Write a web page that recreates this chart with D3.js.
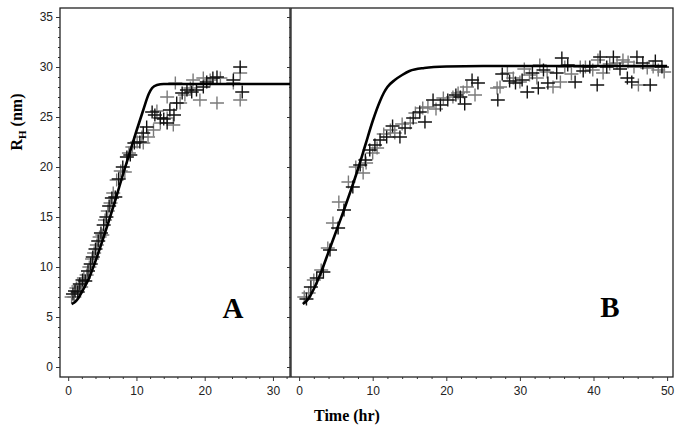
<!DOCTYPE html>
<html>
<head>
<meta charset="utf-8">
<script src="https://cdn.jsdelivr.net/npm/d3@7"></script>
<style>
  body { margin: 0; background: #fff; }
  svg { display: block; }
</style>
</head>
<body>
<svg id="chart" width="681" height="430"></svg>
<script>
// ---------- data ----------
const yTicks = [0, 5, 10, 15, 20, 25, 30, 35];
const xTicksA = [0, 10, 20, 30];
const xTicksB = [0, 10, 20, 30, 40, 50];

// Panel A: measured points (time hr, R_H nm)
const pointsA_t = [0.5,0.7,0.9,1.0,1.2,1.4,1.5,1.7,1.9,2.1,2.3,2.5,2.7,2.9,3.1,3.3,3.5,3.6,3.8,4.0,4.2,4.4,4.6,4.8,5.0,5.2,5.4,5.6,5.8,6.0,6.2,6.4,6.6,6.9,7.1,7.4,7.7,8.0,8.3,8.6,8.9,9.1,9.4,9.7,10.1,10.5,10.8,11.0,11.0,11.5,11.7,12.3,12.5,12.7,13.0,13.5,13.5,14.0,14.5,14.5,14.5,14.9,15.4,15.5,15.7,15.9,16.4,16.7,17.1,17.4,17.9,18.1,18.3,18.8,19.3,19.8,19.8,20.3,20.8,21.2,21.8,21.8,22.3,24.2,24.2,25.2,25.2,25.5,25.2];
const pointsA_r = [7.0,7.3,7.0,7.6,7.9,7.5,8.1,8.3,8.0,8.7,8.9,8.6,9.2,9.6,10.0,10.3,10.8,11.0,11.4,11.8,12.2,12.6,13.0,13.4,13.2,14.2,14.7,15.0,15.6,16.1,16.4,16.9,17.4,17.0,18.7,18.8,19.6,20.0,19.5,21.0,21.4,21.2,22.0,22.4,22.5,22.5,23.0,23.4,22.4,24.0,23.0,25.5,23.7,25.2,25.6,24.9,24.4,24.8,24.9,24.4,27.0,25.7,24.2,25.2,28.4,26.4,26.4,27.4,27.2,27.7,27.9,27.5,28.7,27.7,26.7,28.0,28.9,28.5,28.7,28.9,26.4,29.0,28.9,28.7,28.4,30.0,29.4,27.5,26.7];

// Panel A: model curve
const fitA_t = [0.5,1,1.5,2,3,4,5,6,7,8,9,10,11,11.8,12.3,13,14,20,32.5];
const fitA_r = [6.3,6.5,6.9,7.5,8.8,10.6,12.6,14.7,16.9,19.2,21.4,23.6,25.7,27.3,27.9,28.2,28.3,28.3,28.3];

// Panel B: measured points
const pointsB_t = [0.7,1.0,1.3,1.6,2.0,2.4,3.0,3.3,3.9,4.2,4.6,5.3,5.4,6.1,6.7,7.3,7.7,8.3,8.7,9.0,9.1,9.6,10.0,10.3,10.6,11.0,11.5,11.9,12.4,12.7,13.0,13.7,14.0,14.4,15.1,15.5,15.8,16.4,16.8,17.1,17.5,18.2,18.6,19.2,19.6,20.2,20.9,21.3,21.6,21.9,22.3,22.5,22.8,23.5,23.9,24.3,26.9,27.0,27.3,27.6,28.3,28.6,29.1,29.4,30.0,30.3,30.6,31.0,31.3,31.7,32.3,32.5,32.7,33.2,33.7,33.8,34.5,35.0,35.5,35.7,36.1,36.5,37.0,37.5,38.2,38.6,38.9,39.5,39.9,40.5,40.6,40.9,41.3,41.8,42.2,42.7,43.2,43.6,44.0,44.6,44.7,45.2,45.5,45.9,46.1,46.7,47.3,47.7,48.1,48.4,48.8,49.3,49.6];
const pointsB_r = [7.0,6.8,7.4,8.0,8.7,8.9,9.7,9.5,11.9,11.7,14.4,13.9,16.5,15.7,18.5,18.0,20.0,20.2,19.4,20.7,20.4,21.7,21.4,22.2,21.9,22.7,23.3,23.0,23.7,24.1,23.4,23.0,24.3,23.9,24.4,24.9,25.4,25.5,25.9,24.5,26.0,26.7,25.8,26.2,26.9,26.7,27.0,27.2,27.4,27.0,27.5,26.3,28.0,28.7,27.2,28.4,27.9,26.7,28.0,29.3,29.4,28.6,28.9,28.4,28.5,28.7,29.8,27.5,29.2,29.4,28.9,27.9,30.2,29.7,29.5,28.4,28.0,29.4,28.5,30.9,30.0,30.2,29.3,28.5,30.0,29.6,30.0,30.0,29.7,28.2,30.7,31.0,29.4,30.0,30.3,31.0,30.4,29.8,30.7,28.9,30.5,28.5,30.0,31.0,28.2,30.4,29.9,28.2,30.0,30.6,29.7,30.0,29.5];

// Panel B: model curve
const fitB_t = [0.5,1,1.5,2,3,4,5,6,7,8,9,10,11,11.5,12,13,14,15,17,20,25,50];
const fitB_r = [6.3,6.6,7.1,7.8,9.5,11.5,13.5,15.5,17.6,19.8,22.2,24.6,26.6,27.4,28.0,28.7,29.2,29.6,29.9,30.05,30.1,30.1];

// ---------- drawing ----------
const svg = d3.select("#chart");
const y = d3.scaleLinear().domain([-1, 35.9]).range([377, 8]);
const xA = d3.scaleLinear().domain([-1.2, 32.5]).range([60, 290]);
const xB = d3.scaleLinear().domain([-1.1, 50.8]).range([291, 673]);

const tickFont = "'Liberation Sans', Arial, sans-serif";
const serif = "'Liberation Serif', 'Times New Roman', serif";

function frame(x) {
  const [x0, x1] = x.range();
  svg.append("rect").attr("x", x0).attr("y", y.range()[1])
    .attr("width", x1 - x0).attr("height", y.range()[0] - y.range()[1])
    .attr("fill", "none").attr("stroke", "#222").attr("stroke-width", 1.3);
}
frame(xA);
frame(xB);

function yAxis(xpos, labels) {
  const minor = d3.range(0, 36, 1).filter(v => v % 5 !== 0);
  const gMin = svg.append("g").attr("transform", `translate(${xpos},0)`)
    .call(d3.axisLeft(y).tickValues(minor).tickSize(2).tickFormat(""));
  const gMaj = svg.append("g").attr("transform", `translate(${xpos},0)`)
    .call(d3.axisLeft(y).tickValues(yTicks).tickSize(4).tickPadding(3)
      .tickFormat(labels ? d3.format("d") : ""));
  [gMin, gMaj].forEach(g => {
    g.select(".domain").remove();
    g.selectAll("line").attr("stroke", "#333").attr("stroke-width", 1);
    g.selectAll("text").attr("font-family", tickFont).attr("font-size", 12).attr("fill", "#222");
  });
}
yAxis(xA.range()[0], true);
yAxis(xB.range()[0], false);

function xAxis(x, ticks, maxv) {
  const minor = d3.range(0, maxv + 0.1, 2).filter(v => v % 10 !== 0 && v >= x.domain()[0] && v <= x.domain()[1]);
  const gMin = svg.append("g").attr("transform", `translate(0,${y.range()[0]})`)
    .call(d3.axisBottom(x).tickValues(minor).tickSize(2).tickFormat(""));
  const gMaj = svg.append("g").attr("transform", `translate(0,${y.range()[0]})`)
    .call(d3.axisBottom(x).tickValues(ticks).tickSize(4).tickPadding(5).tickFormat(d3.format("d")));
  [gMin, gMaj].forEach(g => {
    g.select(".domain").remove();
    g.selectAll("line").attr("stroke", "#333").attr("stroke-width", 1);
    g.selectAll("text").attr("font-family", tickFont).attr("font-size", 12).attr("fill", "#222");
  });
}
xAxis(xA, xTicksA, 32);
xAxis(xB, xTicksB, 50);

function points(x, ts, rs) {
  const data = ts.map((t, i) => ({t, r: rs[i], i}));
  const ordered = data.filter(d => d.i % 2 === 0).concat(data.filter(d => d.i % 2 === 1));
  const g = svg.append("g");
  const hw = 7, hh = 6.5;
  ordered.forEach(d => {
    const px = x(d.t), py = y(d.r);
    const col = d.i % 2 === 0 ? "#7a7a7a" : "#111";
    g.append("path")
      .attr("d", `M${px - hw},${py}H${px + hw}M${px},${py - hh}V${py + hh}`)
      .attr("stroke", col).attr("stroke-width", 1.4).attr("fill", "none");
  });
}
points(xA, pointsA_t, pointsA_r);
points(xB, pointsB_t, pointsB_r);

function fit(x, ts, rs) {
  const line = d3.line().x(d => x(d[0])).y(d => y(d[1])).curve(d3.curveMonotoneX);
  svg.append("path").datum(ts.map((t, i) => [t, rs[i]]))
    .attr("d", line).attr("fill", "none").attr("stroke", "#000")
    .attr("stroke-width", 2.6).attr("stroke-linejoin", "round");
}
fit(xA, fitA_t, fitA_r);
fit(xB, fitB_t, fitB_r);

// Panel letters
svg.append("text").attr("x", 233).attr("y", 318).attr("text-anchor", "middle")
  .attr("font-family", serif).attr("font-weight", "bold").attr("font-size", 29).text("A");
svg.append("text").attr("x", 610).attr("y", 317).attr("text-anchor", "middle")
  .attr("font-family", serif).attr("font-weight", "bold").attr("font-size", 29).text("B");

// Axis titles
const yl = svg.append("text")
  .attr("transform", "translate(22,122) rotate(-90)")
  .attr("text-anchor", "middle")
  .attr("font-family", serif).attr("font-weight", "bold").attr("font-size", 16);
yl.append("tspan").text("R");
yl.append("tspan").attr("font-size", 11).attr("dy", 4).text("H");
yl.append("tspan").attr("dy", -4).text(" (nm)");

svg.append("text").attr("x", 347).attr("y", 421).attr("text-anchor", "middle")
  .attr("font-family", serif).attr("font-weight", "bold").attr("font-size", 16).text("Time (hr)");
</script>
</body>
</html>
